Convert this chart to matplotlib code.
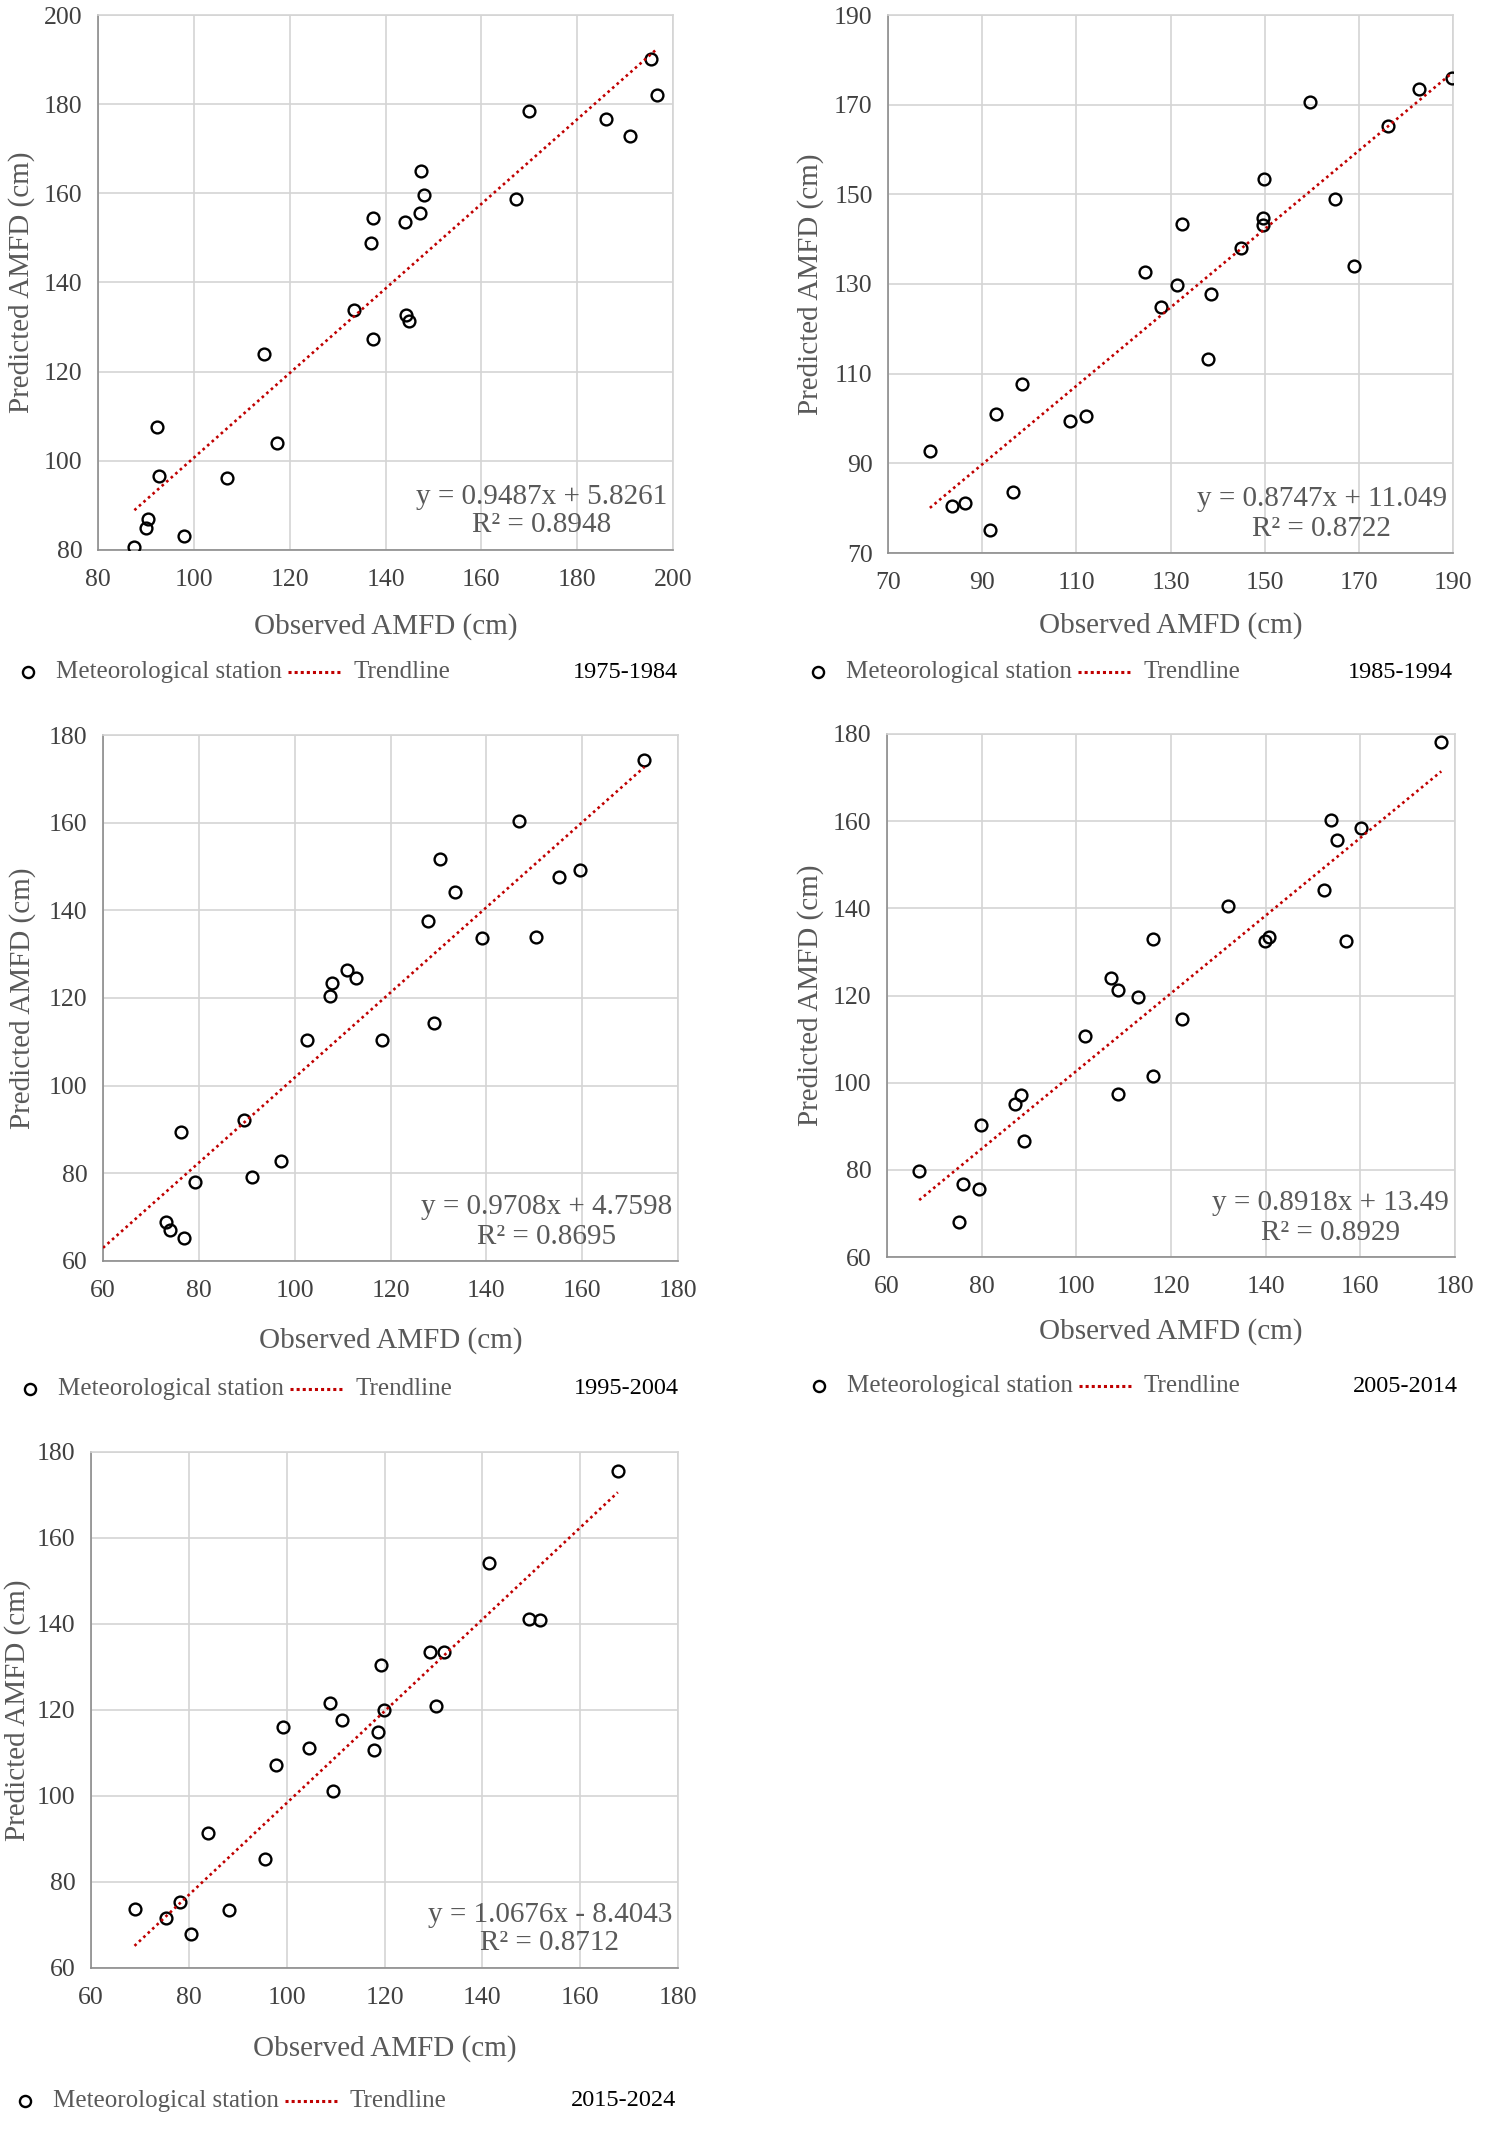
import numpy as np
import matplotlib
matplotlib.use("Agg")
import matplotlib.pyplot as plt
from matplotlib.lines import Line2D

plt.rcParams['font.family'] = ['Liberation Serif', 'DejaVu Serif']

# observed / predicted AMFD (cm) per decade
obs1 = [87.6, 90.1, 90.4, 92.3, 92.8, 98.0, 106.9, 114.7, 117.3, 133.5, 136.9, 137.4, 137.4,
        144.1, 144.3, 144.8, 147.1, 147.5, 148.1, 167.2, 169.9, 186.0, 191.0, 195.5, 196.7]
pred1 = [80.7, 85.0, 87.0, 107.5, 96.5, 83.2, 96.1, 123.9, 104.0, 133.9, 148.8, 154.4, 127.3,
         153.5, 132.7, 131.4, 155.7, 164.9, 159.6, 158.8, 178.4, 176.6, 172.8, 190.1, 182.0]

obs2 = [78.9, 83.5, 86.4, 91.7, 92.9, 96.5, 98.5, 108.7, 112.1, 124.6, 128.0, 131.4, 132.5,
        138.0, 138.6, 145.0, 149.7, 149.7, 149.8, 159.6, 165.0, 168.9, 176.3, 182.7, 189.7]
pred2 = [92.7, 80.4, 81.2, 75.2, 100.9, 83.7, 107.8, 99.4, 100.5, 132.6, 124.8, 129.7, 143.3,
         113.2, 127.8, 138.0, 144.8, 143.1, 153.5, 170.6, 148.9, 134.1, 165.2, 173.6, 175.9]

obs3 = [73.2, 74.0, 76.8, 76.3, 79.3, 89.5, 91.0, 97.2, 102.5, 107.4, 107.7, 110.9, 112.7,
        118.2, 127.9, 129.0, 130.3, 133.5, 139.1, 146.9, 150.4, 155.1, 159.6, 173.0]
pred3 = [69.0, 67.0, 65.3, 89.5, 78.0, 92.2, 79.1, 82.9, 110.4, 120.5, 123.5, 126.5, 124.6,
         110.5, 137.6, 114.3, 151.8, 144.2, 133.7, 160.3, 134.0, 147.6, 149.3, 174.2]

obs4 = [66.8, 75.2, 76.0, 79.5, 79.9, 87.0, 88.4, 89.0, 101.9, 107.3, 108.8, 108.9, 113.1,
        116.2, 116.3, 122.3, 132.1, 139.9, 140.6, 152.3, 153.8, 155.0, 156.9, 160.2, 177.1]
pred4 = [79.8, 68.0, 76.7, 75.6, 90.3, 95.2, 97.2, 86.6, 110.6, 124.1, 121.2, 97.3, 119.6,
         101.6, 133.0, 114.6, 140.5, 132.5, 133.5, 144.3, 160.2, 155.7, 132.5, 158.4, 178.1]

obs5 = [68.9, 75.3, 78.1, 80.4, 83.9, 88.3, 95.6, 97.9, 99.3, 104.6, 108.9, 109.4, 111.4,
        117.8, 118.6, 119.3, 119.9, 129.2, 130.5, 132.1, 141.4, 149.6, 151.8, 167.7]
pred5 = [73.7, 71.6, 75.4, 67.9, 91.4, 73.6, 85.3, 107.2, 116.0, 111.1, 121.7, 101.2, 117.7,
         110.7, 115.0, 130.4, 120.1, 133.4, 121.0, 133.4, 154.3, 141.1, 140.9, 175.6]

slopes = [0.9487, 0.8747, 0.9708, 0.8918, 1.0676]
intercepts = [5.8261, 11.049, 4.7598, 13.49, -8.4043]
r2 = ['0.8948', '0.8722', '0.8695', '0.8929', '0.8712']
eq_text = ['y = 0.9487x + 5.8261', 'y = 0.8747x + 11.049', 'y = 0.9708x + 4.7598',
           'y = 0.8918x + 13.49', 'y = 1.0676x - 8.4043']
periods = ['1975-1984', '1985-1994', '1995-2004', '2005-2014', '2015-2024']
trend_start = [None, None, 60, None, None]
axis_lims = [(80, 200), (70, 190), (60, 180), (60, 180), (60, 180)]

obs_all = [obs1, obs2, obs3, obs4, obs5]
pred_all = [pred1, pred2, pred3, pred4, pred5]

W, H = 1492, 2130
fig = plt.figure(figsize=(W / 100, H / 100), dpi=100)

# axes boxes in pixels: left, top, right, bottom
boxes = [(98, 15, 673, 550), (888, 15, 1453, 553), (103, 735, 678, 1261),
         (887, 734, 1455, 1257), (91, 1452, 678, 1968)]
ylab_off = [76, 77, 80, 76, 73]
xlab_off = [77, 73, 80, 75, 81]
# legend rows: marker x, period right x, y
leg_rows = [(28, 678, 672), (818, 1453, 672), (30, 679, 1389), (819, 1458, 1386), (25, 676, 2101)]

tick_col = '#404040'
lab_col = '#595959'
grid_col = '#d4d4d4'
red = '#C00000'

for i in range(5):
    l, t, r, b = boxes[i]
    ax = fig.add_axes([l / W, 1 - b / H, (r - l) / W, (b - t) / H])
    lo, hi = axis_lims[i]
    ax.set_xlim(lo, hi)
    ax.set_ylim(lo, hi)
    ax.set_xticks(np.arange(lo, hi + 1, 20))
    ax.set_yticks(np.arange(lo, hi + 1, 20))
    ax.grid(True, color=grid_col, lw=1.2)
    ax.set_axisbelow(True)
    for s in ['top', 'right']:
        ax.spines[s].set_color(grid_col)
        ax.spines[s].set_linewidth(1.2)
    for s in ['left', 'bottom']:
        ax.spines[s].set_color('#8c8c8c')
        ax.spines[s].set_linewidth(1.2)
    ax.tick_params(axis='both', length=0, labelsize=18.5, labelcolor=tick_col)
    ax.tick_params(axis='x', pad=14)
    ax.tick_params(axis='y', pad=11)

    x = obs_all[i]
    y = pred_all[i]
    ax.plot(x, y, 'o', ms=8.5, mfc='none', mec='black', mew=1.7, zorder=3)

    x0 = trend_start[i] if trend_start[i] is not None else min(x)
    tx = np.array([x0, max(x)])
    ax.plot(tx, slopes[i] * tx + intercepts[i], color=red, lw=1.9,
            ls=(0, (1, 1.3)), zorder=4)

    w_ax = r - l
    h_ax = b - t
    ax.set_xlabel('Observed AMFD (cm)', fontsize=21, color=lab_col)
    ax.set_ylabel('Predicted AMFD (cm)', fontsize=21, color=lab_col)
    ax.xaxis.set_label_coords(0.5, -xlab_off[i] / h_ax)
    ax.yaxis.set_label_coords(-ylab_off[i] / w_ax, 0.5)
    for lab in [ax.xaxis.label, ax.yaxis.label]:
        lab.set_va('center')

    ax.text(1 - 6 / w_ax, 39 / h_ax, eq_text[i] + '\nR\u00b2 = ' + r2[i],
            transform=ax.transAxes, ha='right', va='center', multialignment='center',
            fontsize=21, color=lab_col, linespacing=1.15)

    # legend row under each panel
    mx, pr, ly = leg_rows[i]
    yf = 1 - ly / H
    fig.add_artist(Line2D([mx / W], [yf], marker='o', ms=8, mfc='none', mec='black',
                          mew=1.7, ls='none', transform=fig.transFigure))
    fig.text((mx + 28) / W, yf, 'Meteorological station', fontsize=18, color=lab_col,
             ha='left', va='center')
    fig.add_artist(Line2D([(mx + 260) / W, (mx + 313) / W], [yf, yf], color=red, lw=2.2,
                          ls=(0, (1, 1.0)), transform=fig.transFigure))
    fig.text((mx + 325) / W, yf, 'Trendline', fontsize=18, color=lab_col,
             ha='left', va='center')
    fig.text(pr / W, yf, periods[i], fontsize=17.5, color='black', ha='right', va='center')

fig.savefig('out.png', dpi=100)
